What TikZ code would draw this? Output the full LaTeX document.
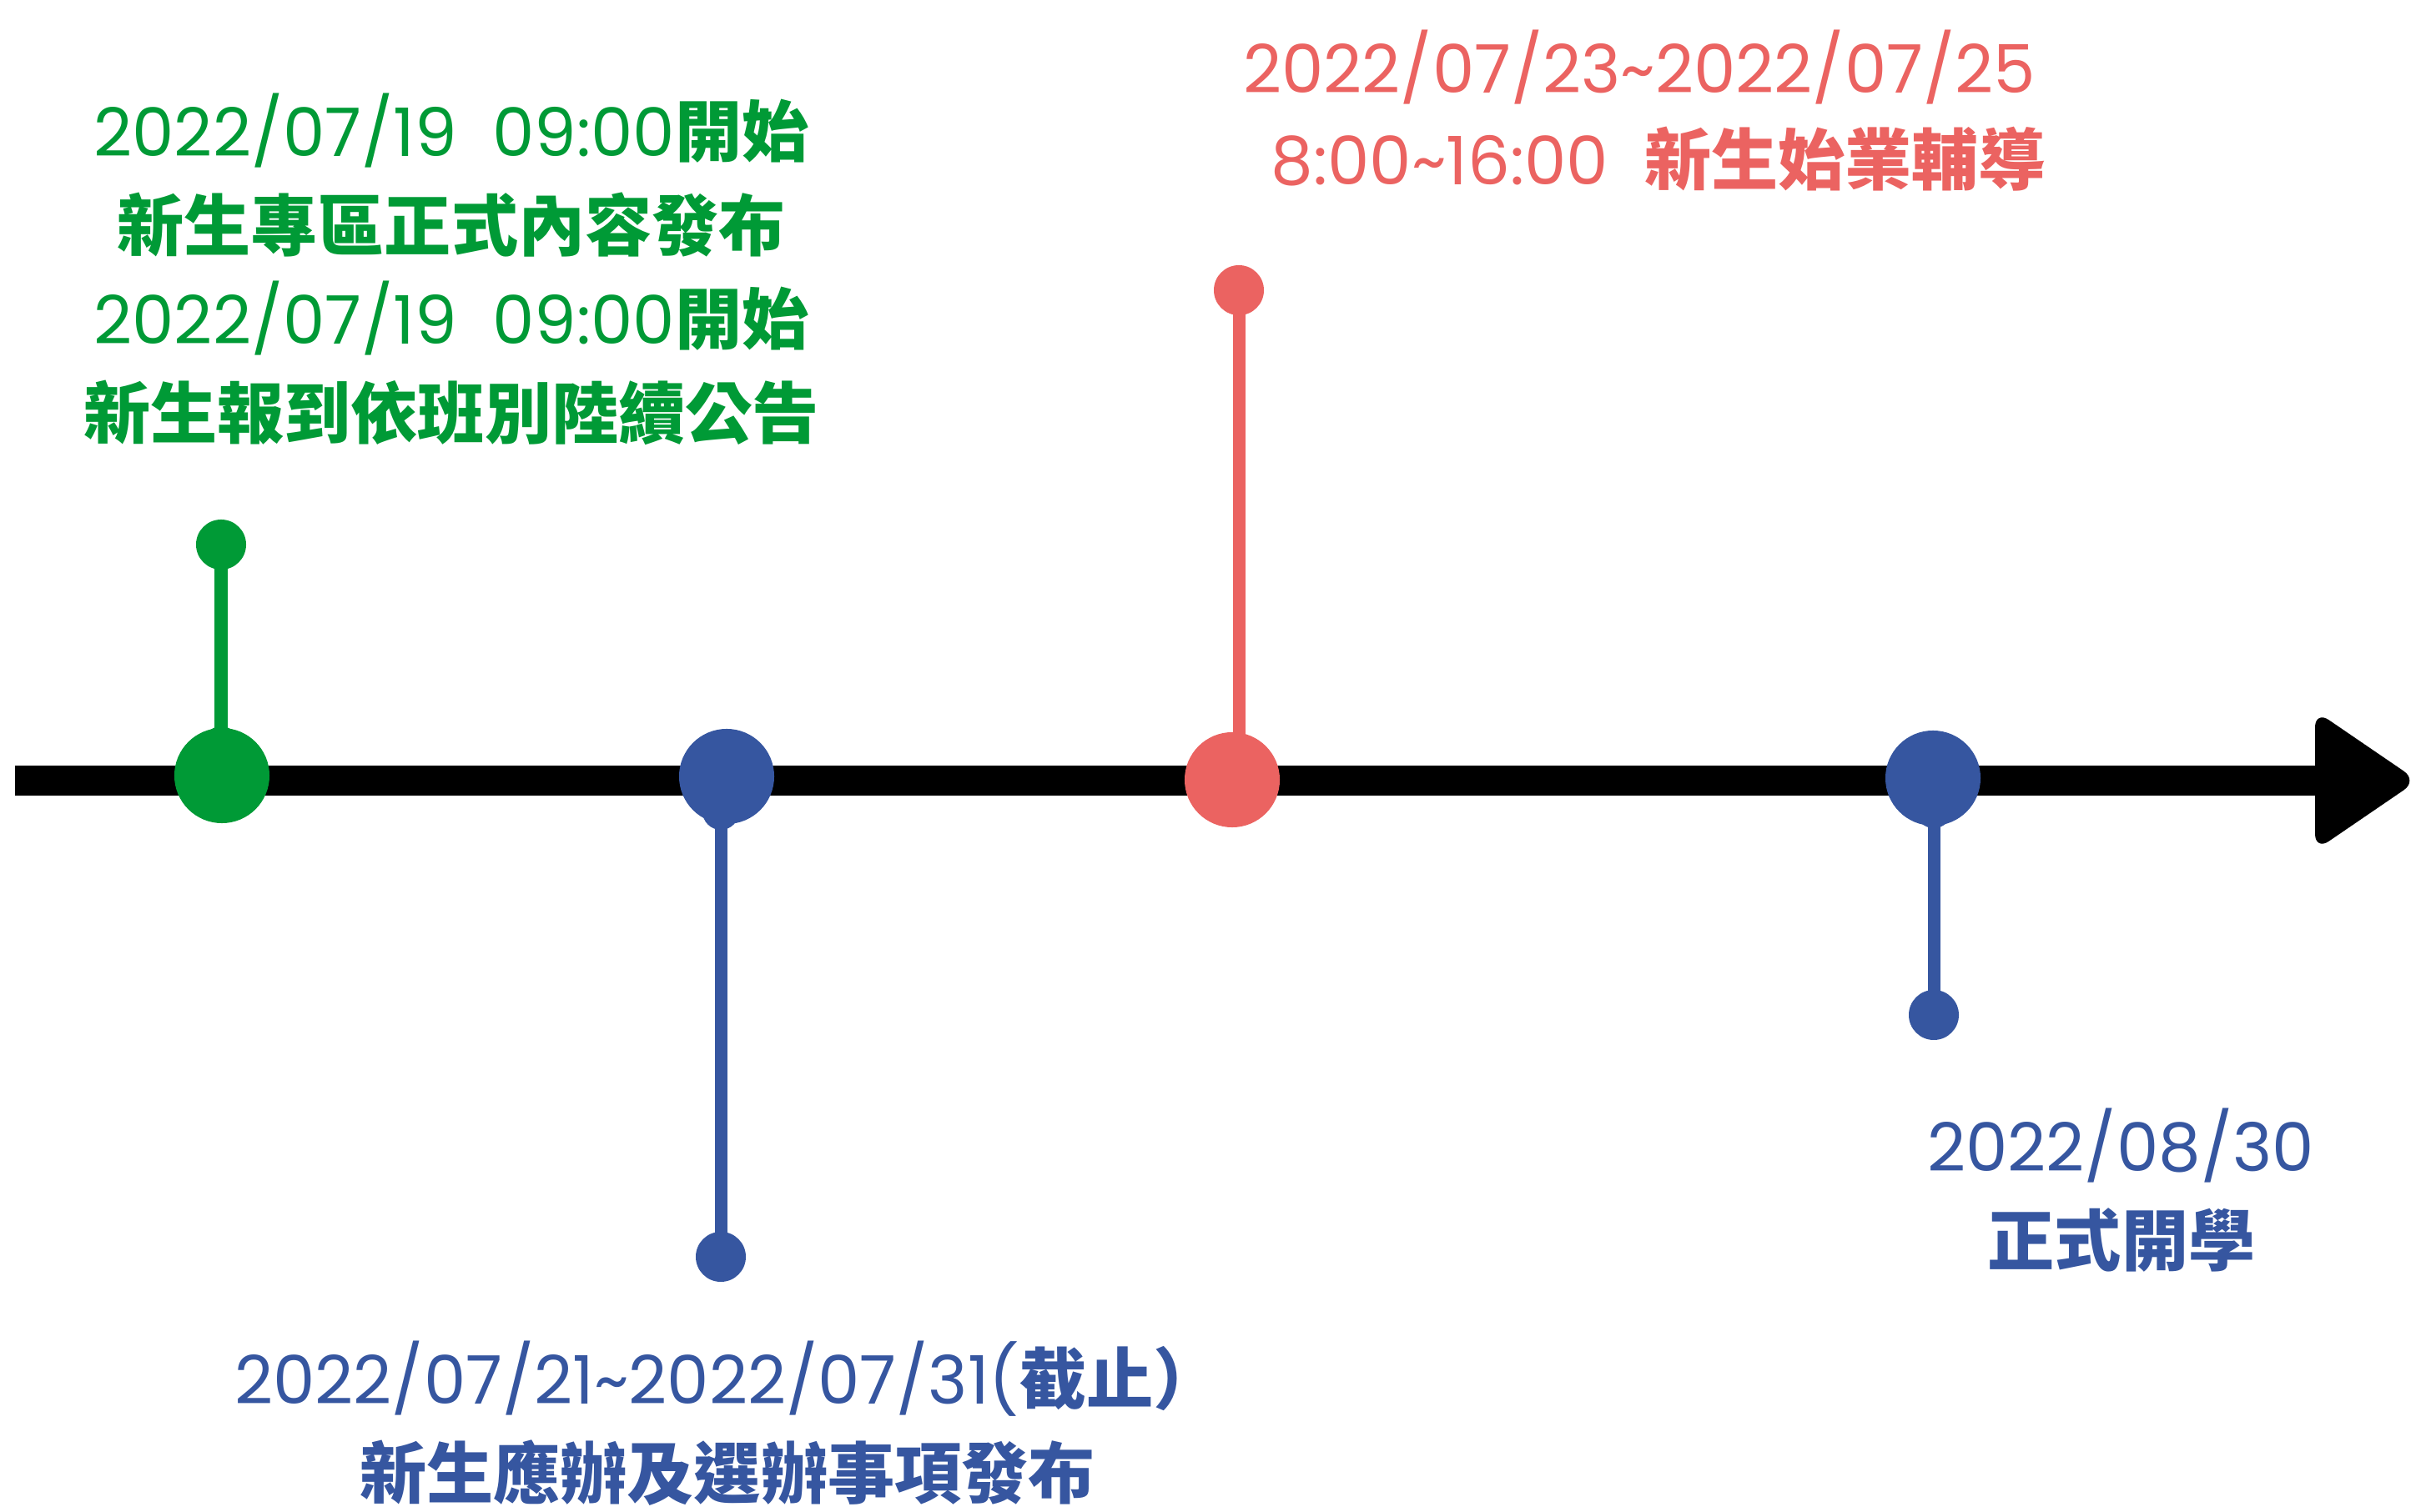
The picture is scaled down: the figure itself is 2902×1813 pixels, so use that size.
\documentclass[tikz,border=0pt]{standalone}
\usepackage{fontspec}
\setmainfont{Poppins}
\newfontfamily\cjk{Noto Sans CJK TC}
\definecolor{tgreen}{RGB}{0,154,54}
\definecolor{tblue}{RGB}{54,86,160}
\definecolor{tred}{RGB}{235,99,97}
\newcommand\cj[1]{{\cjk\bfseries #1}}
\begin{document}
\begin{tikzpicture}[x=0.01cm,y=-0.01cm,
  txt/.style={font=\fontsize{22.8}{27}\selectfont, anchor=base, inner sep=0pt},
  bigdot/.style={circle, fill=#1, minimum size=1.14cm, inner sep=0pt},
  smalldot/.style={circle, fill=#1, minimum size=0.6cm, inner sep=0pt},
  bump/.style={circle, fill=#1, minimum size=0.44cm, inner sep=0pt},
  stem/.style={draw=#1, line width=0.15cm}]
\useasboundingbox (0,0) rectangle (2902,1813);
% axis
\coordinate (axisL) at (18,936);
\coordinate (axisR) at (2790,936);
\draw[line width=0.36cm] (axisL) -- (axisR);
\fill[rounded corners=0.2cm] (2775,852) -- (2898,936) -- (2775,1020) -- cycle;
% green event
\node[bigdot=tgreen] (g0) at (266,930) {};
\node[bump=tgreen] (gb) at (265,893) {};
\node[smalldot=tgreen] (g1) at (265,653) {};
\draw[stem=tgreen] (g1.center) -- (gb.center);
% blue event 1
\node[bigdot=tblue] (b0) at (871,931) {};
\node[bump=tblue] (bb) at (864,973) {};
\node[smalldot=tblue] (b1) at (864,1507) {};
\draw[stem=tblue] (bb.center) -- (b1.center);
% red event
\node[bigdot=tred] (r0) at (1477,935) {};
\node[smalldot=tred] (r1) at (1485,348) {};
\coordinate (rb) at (1485,900);
\draw[stem=tred] (r1.center) -- (rb);
% blue event 2
\node[bigdot=tblue] (c0) at (2317,933) {};
\node[bump=tblue] (cb) at (2318,971) {};
\node[smalldot=tblue] (c1) at (2318,1217) {};
\draw[stem=tblue] (cb.center) -- (c1.center);
% texts
\node[txt, text=tgreen] (gt1) at (541,188) {2022/07/19\ \ 09:00\cj{開始}};
\node[txt, text=tgreen] (gt2) at (541,301) {\cj{新生專區正式內容發布}};
\node[txt, text=tgreen] (gt3) at (541,413) {2022/07/19\ \ 09:00\cj{開始}};
\node[txt, text=tgreen] (gt4) at (541,526) {\cj{新生報到依班別陸續公告}};
\node[txt, text=tred] (rt1) at (1965,112) {2022/07/23\textasciitilde2022/07/25};
\node[txt, text=tred] (rt2) at (1988,222) {8:00\textasciitilde16:00\ \ \cj{新生始業輔導}};
\node[txt, text=tblue] (bt1) at (872,1683) {2022/07/21\textasciitilde2022/07/31(\cj{截止）}};
\node[txt, text=tblue] (bt2) at (872,1796) {\cj{新生應辦及選辦事項發布}};
\node[txt, text=tblue] (ct1) at (2542,1405) {2022/08/30};
\node[txt, text=tblue] (ct2) at (2543,1517) {\cj{正式開學}};
\end{tikzpicture}
\end{document}
